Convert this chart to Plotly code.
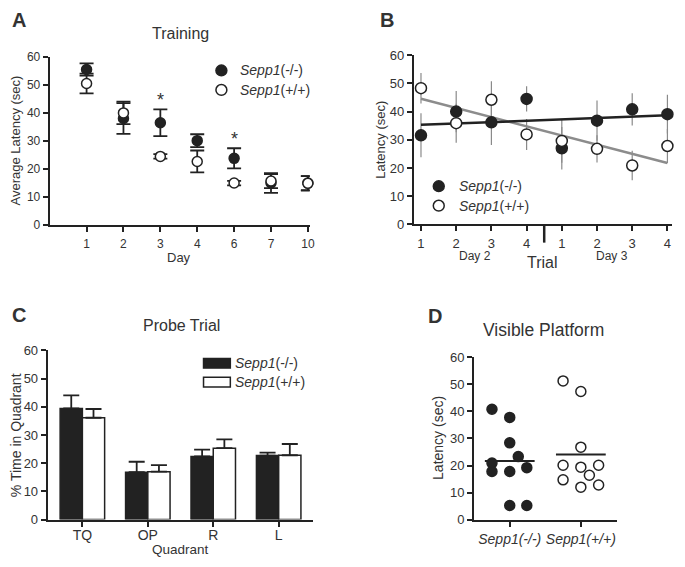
import numpy as np
import plotly.graph_objects as go

# The page is 685x567; the page body keeps its default 8px margin, so the figure is 16px smaller
PAGE_W, PAGE_H, OFF = 685, 567, 8
W, H = PAGE_W - 2 * OFF, PAGE_H - 2 * OFF

# ---------------- data ----------------
# Panel A: Training (mean latency +/- SEM per day)
a_days = ["1", "2", "3", "4", "6", "7", "10"]
a_ko = [55.5, 38.0, 36.5, 30.1, 23.8, 15.0, 15.0]
a_ko_err = [2.2, 5.5, 4.8, 2.3, 3.6, 3.5, 2.5]
a_wt = [50.5, 40.0, 24.5, 22.7, 15.0, 15.7, 14.9]
a_wt_err = [3.5, 4.0, 0.8, 3.9, 0.8, 2.5, 2.6]
a_sig = ["", "", "*", "", "*", "", ""]

# Panel B: latency by trial (Day 2 trials 1-4, then Day 3 trials 1-4)
b_trial = [1, 2, 3, 4, 5, 6, 7, 8]
b_ticktext = ["1", "2", "3", "4", "1", "2", "3", "4"]
b_ko = [31.6, 40.0, 36.2, 44.5, 27.0, 36.8, 40.8, 39.1]
b_ko_err = [7.8, 7.3, 8.0, 4.5, 7.5, 7.1, 5.7, 6.9]
b_wt = [48.3, 35.9, 44.2, 31.9, 29.6, 26.8, 20.9, 27.8]
b_wt_err = [5.4, 6.9, 6.6, 5.5, 7.7, 4.8, 5.2, 6.0]

# Panel C: Probe trial
c_quadrants = ["TQ", "OP", "R", "L"]
c_ko = [39.4, 16.8, 22.4, 22.7]
c_ko_err = [4.6, 3.7, 2.4, 1.0]
c_wt = [36.1, 17.0, 25.3, 22.8]
c_wt_err = [3.1, 2.3, 3.1, 4.0]

# Panel D: Visible platform (individual animals)
d_groups = ["<i>Sepp1(-/-)</i>", "<i>Sepp1(+/+)</i>"]
d_ko = [40.8, 37.8, 28.4, 23.3, 20.9, 17.8, 17.8, 19.2, 5.2, 5.2]
d_ko_jitter = [-0.25, 0.0, 0.0, 0.12, -0.25, -0.25, 0.0, 0.24, 0.0, 0.24]
d_wt = [51.3, 47.4, 26.8, 20.1, 19.4, 20.1, 16.4, 14.7, 12.0, 12.8]
d_wt_jitter = [-0.25, 0.0, 0.0, -0.25, 0.0, 0.25, 0.12, -0.25, 0.0, 0.25]

# ---------------- style ----------------
FONT = "Liberation Sans, Arial, sans-serif"
TXT = "#333333"
AX = "#222222"
KO_NAME = "<i>Sepp1</i>(-/-)"
WT_NAME = "<i>Sepp1</i>(+/+)"


def px(x):
    return (x - OFF) / W


def py(y):
    return 1 - (y - OFF) / H


def axis(size=12, **kw):
    d = dict(showline=True, linecolor=AX, linewidth=2, ticks="outside", ticklen=5,
             tickwidth=2, tickcolor=AX, showgrid=False, zeroline=False,
             tickfont=dict(size=size, color=TXT, family=FONT))
    d.update(kw)
    return d


fig = go.Figure()

# ---------------- Panel A ----------------
fig.add_trace(go.Scatter(
    x=a_days, y=a_ko, mode="markers", xaxis="x", yaxis="y", cliponaxis=False,
    marker=dict(size=10, color=AX, line=dict(color=AX, width=1.5)),
    error_y=dict(type="data", array=a_ko_err, color=AX, thickness=1.8, width=7),
    showlegend=False))
fig.add_trace(go.Scatter(
    x=a_days, y=a_wt, mode="markers", xaxis="x", yaxis="y", cliponaxis=False,
    marker=dict(size=10, color="white", line=dict(color=AX, width=1.5)),
    error_y=dict(type="data", array=a_wt_err, color=AX, thickness=1.8, width=7),
    showlegend=False))

annotations = []
for i, (s, v, e) in enumerate(zip(a_sig, a_ko, a_ko_err)):
    if s:
        annotations.append(dict(x=i, y=v + e, xref="x", yref="y", text=s, showarrow=False,
                                yanchor="bottom", yshift=-3,
                                font=dict(size=18, color=TXT, family=FONT)))

# ---------------- Panel B ----------------
fig.add_trace(go.Scatter(
    x=b_trial, y=b_ko, mode="markers", xaxis="x2", yaxis="y2", cliponaxis=False,
    marker=dict(size=1, color="rgba(0,0,0,0)"),
    error_y=dict(type="data", array=b_ko_err, color="#8a8a8a", thickness=1.2, width=0),
    showlegend=False, hoverinfo="skip"))
fig.add_trace(go.Scatter(
    x=b_trial, y=b_wt, mode="markers", xaxis="x2", yaxis="y2", cliponaxis=False,
    marker=dict(size=1, color="rgba(0,0,0,0)"),
    error_y=dict(type="data", array=b_wt_err, color="#8a8a8a", thickness=1.2, width=0),
    showlegend=False, hoverinfo="skip"))
bx = np.array(b_trial, dtype=float)
for vals, col in ((b_wt, "#8c8c8c"), (b_ko, "#222222")):
    k, c0 = np.polyfit(bx, np.array(vals), 1)
    xs = np.array([bx.min(), bx.max()])
    fig.add_trace(go.Scatter(x=xs, y=k * xs + c0, mode="lines", xaxis="x2", yaxis="y2",
                             line=dict(color=col, width=2.5), showlegend=False))
fig.add_trace(go.Scatter(
    x=b_trial, y=b_ko, mode="markers", xaxis="x2", yaxis="y2", cliponaxis=False,
    marker=dict(size=11, color=AX, line=dict(color=AX, width=1.5)), showlegend=False))
fig.add_trace(go.Scatter(
    x=b_trial, y=b_wt, mode="markers", xaxis="x2", yaxis="y2", cliponaxis=False,
    marker=dict(size=11, color="white", line=dict(color=AX, width=1.5)), showlegend=False))

# ---------------- Panel C ----------------
fig.add_trace(go.Bar(
    x=c_quadrants, y=c_ko, xaxis="x3", yaxis="y3", marker=dict(color=AX, line=dict(color=AX, width=1.5)),
    error_y=dict(type="data", array=c_ko_err, arrayminus=[0] * len(c_ko), symmetric=False,
                 color=AX, thickness=1.8, width=8),
    showlegend=False))
fig.add_trace(go.Bar(
    x=c_quadrants, y=c_wt, xaxis="x3", yaxis="y3", marker=dict(color="white", line=dict(color=AX, width=1.5)),
    error_y=dict(type="data", array=c_wt_err, arrayminus=[0] * len(c_wt), symmetric=False,
                 color=AX, thickness=1.8, width=8),
    showlegend=False))

# ---------------- Panel D ----------------
ko_x = [0 + j for j in d_ko_jitter]
wt_x = [1 + j for j in d_wt_jitter]
fig.add_trace(go.Scatter(x=ko_x, y=d_ko, mode="markers", xaxis="x4", yaxis="y4", cliponaxis=False,
                         marker=dict(size=10, color=AX, line=dict(color=AX, width=1.5)), showlegend=False))
fig.add_trace(go.Scatter(x=wt_x, y=d_wt, mode="markers", xaxis="x4", yaxis="y4", cliponaxis=False,
                         marker=dict(size=10, color="white", line=dict(color=AX, width=1.5)), showlegend=False))
for i, vals in enumerate((d_ko, d_wt)):
    m = float(np.mean(vals))
    fig.add_trace(go.Scatter(x=[i - 0.35, i + 0.35], y=[m, m], mode="lines", xaxis="x4", yaxis="y4",
                             line=dict(color=AX, width=2), showlegend=False))

# ---------------- layout ----------------
layout = dict(
    width=W, height=H, margin=dict(l=0, r=0, t=0, b=0),
    paper_bgcolor="white", plot_bgcolor="white",
    font=dict(family=FONT, color=TXT),
    barmode="group", bargap=0.32, bargroupgap=0,
    xaxis=axis(12, type="category", range=[-1, 6.05], domain=[px(50), px(312)], anchor="y",
               ticklabelstandoff=1),
    yaxis=axis(12, range=[0, 60], dtick=10, domain=[py(224), py(51)], anchor="x"),
    xaxis2=axis(13, range=[0.80, 8.13], tickvals=b_trial, ticktext=b_ticktext,
                domain=[px(417), px(677)], anchor="y2", ticklabelstandoff=1),
    yaxis2=axis(13, range=[0, 60], dtick=10, domain=[py(223.3), py(49.3)], anchor="x2"),
    xaxis3=axis(14, type="category", range=[-0.53, 3.52], domain=[px(48), px(315)], anchor="y3",
                ticklabelstandoff=-3),
    yaxis3=axis(13, range=[0, 60], dtick=10, domain=[py(526.7), py(352.7)], anchor="x3"),
    xaxis4=axis(14, range=[-0.5, 1.51], tickvals=[0, 1], ticktext=d_groups,
                domain=[px(477.7), px(621.7)], anchor="y4", ticklabelstandoff=1),
    yaxis4=axis(13, range=[0, 60], dtick=10, domain=[py(526.7), py(360)], anchor="x4"),
)


def ann(x, y, text, size, bold=False, angle=0, xanchor="center"):
    t = f"<b>{text}</b>" if bold else text
    return dict(x=px(x), y=py(y), xref="paper", yref="paper", text=t, showarrow=False,
                textangle=angle, xanchor=xanchor, yanchor="middle",
                font=dict(size=size, color=TXT, family=FONT))


annotations += [
    # panel letters
    ann(19, 13, "A", 20, bold=True), ann(390, 13, "B", 20, bold=True),
    ann(19, 316, "C", 20, bold=True), ann(438, 317, "D", 20, bold=True),
    # titles
    ann(182, 27, "Training", 16), ann(183, 327, "Probe Trial", 16),
    ann(548, 332, "Visible Platform", 17.5),
    # axis titles
    ann(16, 137, "Average Latency (sec)", 13, angle=-90), ann(180, 257, "Day", 13),
    ann(383, 136, "Latency (sec)", 13, angle=-90),
    ann(479, 256, "Day 2", 12), ann(547, 262, "Trial", 16), ann(617, 256, "Day 3", 12),
    ann(16, 440, "% Time in Quadrant", 14, angle=-90), ann(182, 557, "Quadrant", 13.5),
    ann(441, 443, "Latency (sec)", 14, angle=-90),
    # legends
    ann(240, 65, KO_NAME, 14, xanchor="left"), ann(240, 85, WT_NAME, 14, xanchor="left"),
    ann(460, 184, KO_NAME, 14, xanchor="left"), ann(460, 204, WT_NAME, 14, xanchor="left"),
    ann(235, 366, KO_NAME, 14, xanchor="left"), ann(235, 385, WT_NAME, 14, xanchor="left"),
]

shapes = []


def circ(cx, cy, fill, r=5.5):
    return dict(type="circle", xref="paper", yref="paper", x0=px(cx - r), x1=px(cx + r),
                y0=py(cy + r), y1=py(cy - r), fillcolor=fill, line=dict(color=AX, width=1.5))


# legend symbols
shapes += [circ(223, 65, AX), circ(223, 85, "white"), circ(442, 184, AX), circ(442, 204, "white")]
shapes += [
    dict(type="rect", xref="paper", yref="paper", x0=px(205), x1=px(232), y0=py(371), y1=py(361),
         fillcolor=AX, line=dict(color=AX, width=1.5)),
    dict(type="rect", xref="paper", yref="paper", x0=px(205), x1=px(232), y0=py(390.5), y1=py(380.5),
         fillcolor="white", line=dict(color=AX, width=1.5)),
    # divider between Day 2 and Day 3 in panel B
    dict(type="line", xref="x2", yref="paper", x0=4.5, x1=4.5, y0=py(224), y1=py(242),
         line=dict(color=AX, width=2.5)),
]

layout["annotations"] = annotations
layout["shapes"] = shapes
fig.update_layout(**layout)
fig.write_html("out.html")
